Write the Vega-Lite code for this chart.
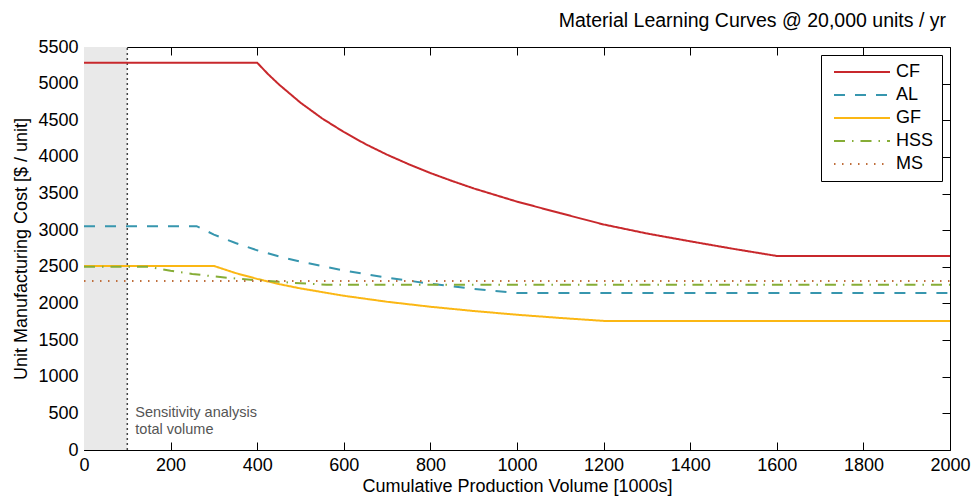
{
  "$schema": "https://vega.github.io/schema/vega-lite/v6.json",
  "autosize": "none",
  "width": 866,
  "height": 403,
  "padding": {"left": 84, "top": 47, "right": 24, "bottom": 49},
  "background": "white",
  "title": {"text": "Material Learning Curves @ 20,000 units / yr", "anchor": "end", "frame": "group", "fontSize": 19.5, "fontWeight": "normal", "offset": 7, "dx": -4, "color": "black", "font": "Liberation Sans"},
  "config": {
    "font": "Liberation Sans",
    "view": {"stroke": "black", "strokeWidth": 1},
    "axis": {"grid": false, "domain": false, "ticks": true, "labelFlush": false, "labelFontSize": 18, "titleFontSize": 18, "titleFontWeight": "normal", "labelColor": "black", "titleColor": "black", "tickColor": "#000000", "tickSize": 8, "tickWidth": 1, "offset": -8, "format": "d", "zindex": 1},
    "legend": {"orient": "top-right", "offset": 8, "strokeColor": "black", "fillColor": "white", "padding": 8, "symbolType": "M-7,0H7", "symbolSize": 64, "symbolStrokeWidth": 2, "labelFontSize": 18, "labelColor": "black", "rowPadding": 5, "symbolOffset": 24, "labelOffset": 25, "title": null}
  },
  "datasets": {
    "curves": [
      {"series": "CF", "x": 0, "cost": 5285},
      {"series": "CF", "x": 400, "cost": 5285},
      {"series": "CF", "x": 425, "cost": 5130},
      {"series": "CF", "x": 450, "cost": 4990},
      {"series": "CF", "x": 500, "cost": 4740},
      {"series": "CF", "x": 550, "cost": 4525},
      {"series": "CF", "x": 600, "cost": 4340},
      {"series": "CF", "x": 650, "cost": 4175},
      {"series": "CF", "x": 700, "cost": 4030},
      {"series": "CF", "x": 750, "cost": 3900},
      {"series": "CF", "x": 800, "cost": 3780},
      {"series": "CF", "x": 850, "cost": 3672},
      {"series": "CF", "x": 900, "cost": 3570},
      {"series": "CF", "x": 1000, "cost": 3390},
      {"series": "CF", "x": 1100, "cost": 3232},
      {"series": "CF", "x": 1200, "cost": 3078},
      {"series": "CF", "x": 1300, "cost": 2955},
      {"series": "CF", "x": 1400, "cost": 2848},
      {"series": "CF", "x": 1500, "cost": 2745},
      {"series": "CF", "x": 1600, "cost": 2648},
      {"series": "CF", "x": 2000, "cost": 2648},
      {"series": "AL", "x": 0, "cost": 3055},
      {"series": "AL", "x": 260, "cost": 3055},
      {"series": "AL", "x": 300, "cost": 2940},
      {"series": "AL", "x": 350, "cost": 2825},
      {"series": "AL", "x": 400, "cost": 2725},
      {"series": "AL", "x": 450, "cost": 2642},
      {"series": "AL", "x": 500, "cost": 2570},
      {"series": "AL", "x": 600, "cost": 2450},
      {"series": "AL", "x": 700, "cost": 2352},
      {"series": "AL", "x": 800, "cost": 2270},
      {"series": "AL", "x": 900, "cost": 2200},
      {"series": "AL", "x": 1000, "cost": 2142},
      {"series": "AL", "x": 2000, "cost": 2142},
      {"series": "GF", "x": 0, "cost": 2512},
      {"series": "GF", "x": 300, "cost": 2512},
      {"series": "GF", "x": 350, "cost": 2415},
      {"series": "GF", "x": 400, "cost": 2335},
      {"series": "GF", "x": 450, "cost": 2265},
      {"series": "GF", "x": 500, "cost": 2205},
      {"series": "GF", "x": 600, "cost": 2105},
      {"series": "GF", "x": 700, "cost": 2023},
      {"series": "GF", "x": 800, "cost": 1955},
      {"series": "GF", "x": 900, "cost": 1897},
      {"series": "GF", "x": 1000, "cost": 1846},
      {"series": "GF", "x": 1100, "cost": 1802},
      {"series": "GF", "x": 1200, "cost": 1762},
      {"series": "GF", "x": 2000, "cost": 1762},
      {"series": "HSS", "x": 0, "cost": 2500},
      {"series": "HSS", "x": 150, "cost": 2500},
      {"series": "HSS", "x": 200, "cost": 2445},
      {"series": "HSS", "x": 250, "cost": 2403},
      {"series": "HSS", "x": 300, "cost": 2369},
      {"series": "HSS", "x": 350, "cost": 2340},
      {"series": "HSS", "x": 400, "cost": 2316},
      {"series": "HSS", "x": 450, "cost": 2295},
      {"series": "HSS", "x": 500, "cost": 2276},
      {"series": "HSS", "x": 560, "cost": 2255},
      {"series": "HSS", "x": 2000, "cost": 2255},
      {"series": "MS", "x": 0, "cost": 2305},
      {"series": "MS", "x": 2000, "cost": 2305}
    ],
    "region": [{"x0": 0, "x1": 100, "y0": 0, "y1": 5500}],
    "notes": [
      {"x": 100, "y": 510, "label": "Sensitivity analysis"},
      {"x": 100, "y": 278, "label": "total volume"}
    ]
  },
  "resolve": {"axis": {"x": "independent", "y": "independent"}},
  "layer": [
    {
      "data": {"name": "region"},
      "mark": {"type": "rect", "fill": "#e9e9e9"},
      "encoding": {
        "x": {"field": "x0", "type": "quantitative", "scale": {"domain": [0, 2000], "nice": false}, "axis": {"orient": "bottom", "values": [0, 200, 400, 600, 800, 1000, 1200, 1400, 1600, 1800, 2000], "title": "Cumulative Production Volume [1000s]", "labelPadding": 6, "titlePadding": 3}},
        "x2": {"field": "x1"},
        "y": {"field": "y0", "type": "quantitative", "scale": {"domain": [0, 5500], "nice": false}, "axis": {"orient": "left", "values": [0, 500, 1000, 1500, 2000, 2500, 3000, 3500, 4000, 4500, 5000, 5500], "title": "Unit Manufacturing Cost [$ / unit]", "labelPadding": 6, "titlePadding": 7}},
        "y2": {"field": "y1"}
      }
    },
    {
      "data": {"name": "region"},
      "mark": {"type": "rule", "color": "#444444", "strokeWidth": 1.5, "strokeDash": [2, 3]},
      "encoding": {
        "x": {"field": "x1", "type": "quantitative", "axis": null},
        "y": {"field": "y0", "type": "quantitative", "axis": null},
        "y2": {"field": "y1"}
      }
    },
    {
      "data": {"name": "notes"},
      "mark": {"type": "text", "align": "left", "baseline": "middle", "dx": 8, "fontSize": 14.5, "color": "#555555"},
      "encoding": {
        "x": {"field": "x", "type": "quantitative", "axis": null},
        "y": {"field": "y", "type": "quantitative", "axis": null},
        "text": {"field": "label"}
      }
    },
    {
      "data": {"name": "curves"},
      "mark": {"type": "line", "strokeWidth": 2},
      "encoding": {
        "x": {"field": "x", "type": "quantitative", "axis": {"orient": "top", "labels": false, "title": null, "values": [0, 200, 400, 600, 800, 1000, 1200, 1400, 1600, 1800, 2000]}},
        "y": {"field": "cost", "type": "quantitative", "axis": {"orient": "right", "labels": false, "title": null, "values": [0, 500, 1000, 1500, 2000, 2500, 3000, 3500, 4000, 4500, 5000, 5500]}},
        "color": {"field": "series", "type": "nominal", "scale": {"domain": ["CF", "AL", "GF", "HSS", "MS"], "range": ["#C8282C", "#3796AE", "#FBB714", "#86AD36", "#BF6E3C"]}},
        "strokeDash": {"field": "series", "type": "nominal", "scale": {"domain": ["CF", "AL", "GF", "HSS", "MS"], "range": [[1, 0], [11, 10], [1, 0], [11, 7, 1.5, 7], [1.5, 6.5]]}},
        "order": {"field": "x", "type": "quantitative"}
      }
    }
  ]
}
